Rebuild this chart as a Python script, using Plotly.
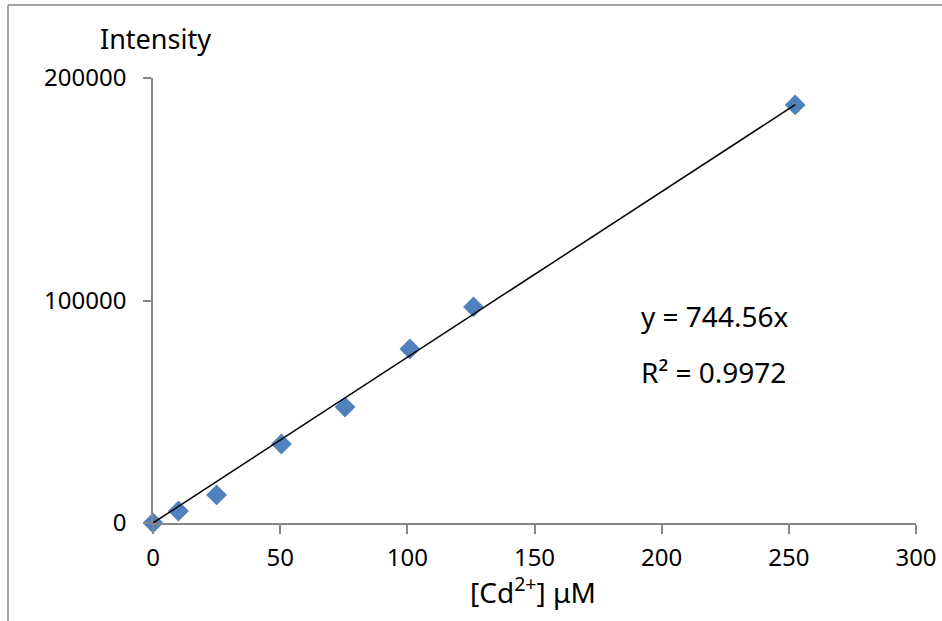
import plotly.graph_objects as go

# Data
conc_uM = [0, 10, 25, 50.5, 75.5, 101, 126, 252.5]
intensity = [0, 5400, 12600, 35500, 52100, 78200, 97100, 187900]
slope = 744.56
r_squared = 0.9972

x_ticks = [0, 50, 100, 150, 200, 250, 300]
y_ticks = [0, 100000, 200000]

W, H = 942, 621
L, R, T, B = 153, 26, 78, 98
pw, ph = W - L - R, H - T - B

FONT = "Noto Sans"
AXIS_COLOR = "#868686"

fig = go.Figure()

trend_x = [min(conc_uM), max(conc_uM)]
trend_y = [slope * v for v in trend_x]
fig.add_trace(go.Scatter(
    x=conc_uM, y=intensity, mode="markers",
    marker=dict(symbol="diamond", size=16, color="#4F81BD"),
    showlegend=False, cliponaxis=False,
))
fig.add_trace(go.Scatter(
    x=trend_x, y=trend_y, mode="lines",
    line=dict(color="black", width=1.5),
    showlegend=False,
))

fig.update_layout(
    width=W, height=H, autosize=False,
    margin=dict(l=L, r=R, t=T, b=B, pad=0, autoexpand=False),
    paper_bgcolor="white", plot_bgcolor="white",
    font=dict(family=FONT, size=24, color="black"),
    xaxis=dict(
        range=[0, 300], tickvals=x_ticks, showgrid=False, zeroline=False,
        showline=True, linecolor=AXIS_COLOR, linewidth=1.5, automargin=False,
        ticks="outside", ticklen=9, tickcolor=AXIS_COLOR, tickwidth=1.5,
        tickfont=dict(size=24), ticklabelstandoff=3,
    ),
    yaxis=dict(
        range=[0, 200000], tickvals=y_ticks, tickformat="d", showgrid=False,
        zeroline=False, showline=True, linecolor=AXIS_COLOR, linewidth=1.5,
        automargin=False,
        ticks="outside", ticklen=8, tickcolor=AXIS_COLOR, tickwidth=1.5,
        tickfont=dict(size=24), ticklabelstandoff=12,
    ),
    annotations=[
        dict(text="Intensity", xref="paper", yref="paper",
             x=(155 - L) / pw, y=1 + (T - 38) / ph, xanchor="center", yanchor="middle",
             showarrow=False, font=dict(size=27)),
        dict(text="[Cd<sup>2+</sup>] μM", xref="paper", yref="paper",
             x=(533 - L) / pw, y=(H - B - 590) / ph, xanchor="center", yanchor="middle",
             showarrow=False, font=dict(size=28)),
        dict(text=f"y = {slope}x", xref="paper", yref="paper",
             x=(639 - L) / pw, y=(H - B - 316) / ph, xanchor="left", yanchor="middle",
             showarrow=False, font=dict(size=28)),
        dict(text=f"R² = {r_squared}", xref="paper", yref="paper",
             x=(639 - L) / pw, y=(H - B - 372) / ph, xanchor="left", yanchor="middle",
             showarrow=False, font=dict(size=28)),
    ],
    shapes=[
        dict(type="line", xref="paper", yref="paper",
             x0=(8 - L) / pw, x1=(8 - L) / pw, y0=(H - B - H - 5) / ph, y1=1 + (T - 5) / ph,
             line=dict(color=AXIS_COLOR, width=1.5)),
        dict(type="line", xref="paper", yref="paper",
             x0=(8 - L) / pw, x1=(W + 5 - L) / pw, y0=1 + (T - 5) / ph, y1=1 + (T - 5) / ph,
             line=dict(color=AXIS_COLOR, width=1.5)),
    ],
)

fig.write_html("out.html", config={"displayModeBar": False, "responsive": False},
               post_script="document.body.style.margin='0';")
